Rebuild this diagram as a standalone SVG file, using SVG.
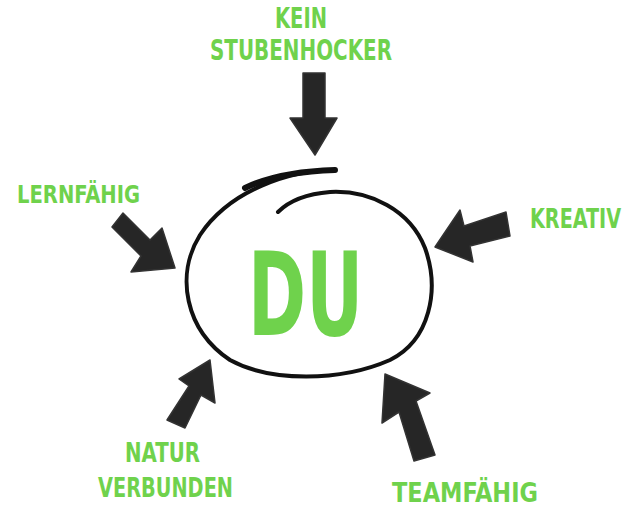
<svg xmlns="http://www.w3.org/2000/svg" width="629" height="507" viewBox="0 0 629 507">
<style>
.lbl{font-family:"DejaVu Sans Condensed","DejaVu Sans",sans-serif;font-weight:bold;fill:#6fd24c;}
.arr{fill:#262626;stroke:#333;stroke-width:1.5;stroke-linejoin:round;}
</style>
<rect width="629" height="507" fill="#ffffff"/>
<g id="center">
<path d="M335,170 C290,170 230,190 200,235 C175,275 185,330 230,360 C270,382 340,382 390,360 C430,340 440,290 425,248 C410,210 370,190 330,192 C305,194 288,202 278,212" fill="none" stroke="#111" stroke-width="4" stroke-linecap="round"/>
<path d="M335,170 C300,171 270,176 245,188" fill="none" stroke="#111" stroke-width="6" stroke-linecap="round"/>
<text class="lbl" x="248" y="335" font-size="116" textLength="115" lengthAdjust="spacingAndGlyphs">DU</text>
</g>
<g id="connectors">
<polygon class="arr" points="303,73 325,73 325,118 337,118 315,155 290,118 303,118"/>
<polygon class="arr" points="123,213 150,240 162,228 175,268 131,272 141,256 112,227"/>
<polygon class="arr" points="435,247 460,210 464,226 506,212 510,236 470,246 473,262"/>
<polygon class="arr" points="210,360 215,403 201,395 185,428 167,420 189,386 179,379"/>
<polygon class="arr" points="385,374 430,393 416,401 435,455 414,461 399,412 382,423"/>
</g>
<g id="node-stubenhocker">
<text class="lbl" x="275" y="28" font-size="28" textLength="52" lengthAdjust="spacingAndGlyphs">KEIN</text>
<text class="lbl" x="210" y="60" font-size="28" textLength="182" lengthAdjust="spacingAndGlyphs">STUBENHOCKER</text>
</g>
<g id="node-lernfaehig">
<text class="lbl" x="17" y="203" font-size="25" textLength="123" lengthAdjust="spacingAndGlyphs">LERNFÄHIG</text>
</g>
<g id="node-kreativ">
<text class="lbl" transform="translate(530,228) scale(1,1.17)" x="0" y="0" font-size="23" textLength="91" lengthAdjust="spacingAndGlyphs">KREATIV</text>
</g>
<g id="node-naturverbunden">
<text class="lbl" x="125" y="462" font-size="26" textLength="75" lengthAdjust="spacingAndGlyphs">NATUR</text>
<text class="lbl" x="98" y="497" font-size="27" textLength="135" lengthAdjust="spacingAndGlyphs">VERBUNDEN</text>
</g>
<g id="node-teamfaehig">
<text class="lbl" x="392" y="502" font-size="26" textLength="146" lengthAdjust="spacingAndGlyphs">TEAMFÄHIG</text>
</g>
</svg>
